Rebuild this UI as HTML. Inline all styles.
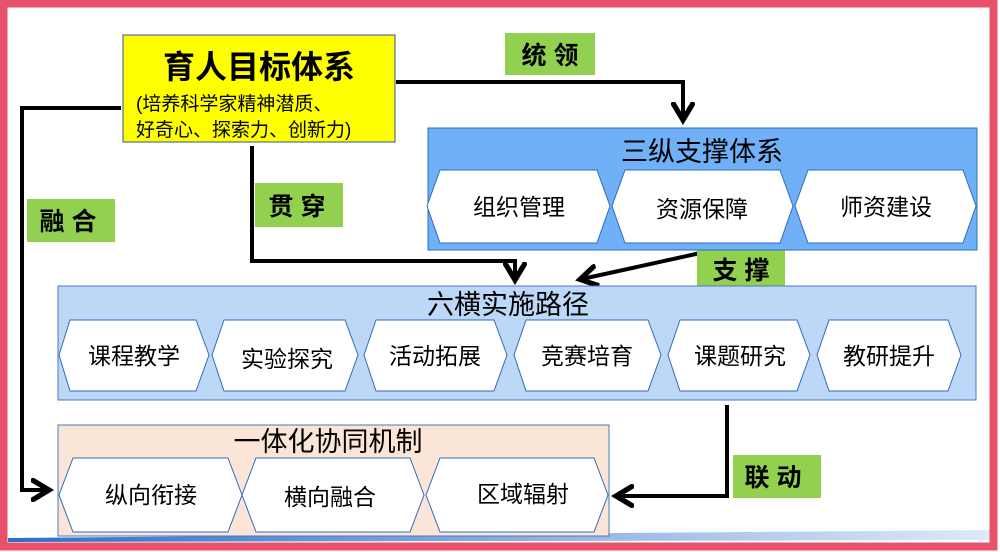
<!DOCTYPE html>
<html><head><meta charset="utf-8"><style>
html,body{margin:0;padding:0;background:#fff}
svg{display:block}
text{font-family:"Liberation Sans","Noto Sans CJK SC",sans-serif}
</style></head><body>
<svg width="1000" height="552" viewBox="0 0 1000 552" xmlns="http://www.w3.org/2000/svg">
<defs>
<marker id="ah" markerWidth="6" markerHeight="6" refX="4" refY="3" orient="auto" markerUnits="strokeWidth">
<path d="M0,0.3 L4.5,3 L0,5.7" fill="none" stroke="#000" stroke-width="1.3"/>
</marker>
<linearGradient id="bl" x1="0" x2="1"><stop offset="0" stop-color="#2e6fc4"/><stop offset="1" stop-color="#dfe9f7"/></linearGradient>
</defs>
<rect width="1000" height="552" fill="#fff"/>
<path d="M8,538 L990,530 L990,540 L8,542Z" fill="url(#bl)"/>
<rect x="3.5" y="3.5" width="990" height="543" fill="none" stroke="#e75169" stroke-width="8"/>

<rect x="123" y="35" width="272" height="107" fill="#ffff00" stroke="#2f5597" stroke-width="1"/>
<text x="259" y="78" font-size="32" font-weight="bold" text-anchor="middle">育人目标体系</text>
<text x="136" y="110" font-size="19">(培养科学家精神潜质、</text>
<text x="136" y="136" font-size="19">好奇心、探索力、创新力)</text>

<g fill="none" stroke="#000" stroke-width="4">
<path d="M396,82 L683,82 L683,118" marker-end="url(#ah)"/>
<path d="M121,108 L22,108 L22,490 L47,490" marker-end="url(#ah)"/>
<path d="M252,146 L252,261 L515,261 L515,278" marker-end="url(#ah)"/>
<path d="M705,252 L582,279" marker-end="url(#ah)"/>
<path d="M727,405 L727,496 L618,496" marker-end="url(#ah)"/>
</g>

<g fill="#92d050">
<rect x="505" y="33" width="90" height="42"/>
<rect x="27" y="199" width="88" height="43"/>
<rect x="255" y="183" width="88" height="44"/>
<rect x="697" y="250" width="88" height="38"/>
<rect x="733" y="455" width="88" height="43"/>
</g>
<g font-size="25" font-weight="bold">
<text x="550" y="64" text-anchor="middle">统 领</text>
<text x="68" y="230" text-anchor="middle">融 合</text>
<text x="297" y="215" text-anchor="middle">贯 穿</text>
<text x="741" y="279" text-anchor="middle">支 撑</text>
<text x="773" y="486" text-anchor="middle">联 动</text>
</g>

<rect x="428" y="128" width="549" height="122" fill="#6fb0f7" stroke="#2f6bbd" stroke-width="1"/>
<text x="702" y="161" font-size="27" text-anchor="middle">三纵支撑体系</text>
<g fill="#fff" stroke="#2f6bbd" stroke-width="1">
<path d="M440,170 L597,170 L610,206 L597,243 L440,243 L427,206Z"/>
<path d="M625,170 L780,170 L793,206 L780,243 L625,243 L612,206Z"/>
<path d="M808,170 L963,170 L976,206 L963,243 L808,243 L795,206Z"/>
</g>
<g font-size="23" text-anchor="middle">
<text x="519" y="215">组织管理</text>
<text x="702" y="217">资源保障</text>
<text x="886" y="215">师资建设</text>
</g>

<rect x="58" y="286" width="918" height="114" fill="#bdd7f7" stroke="#4a78c0" stroke-width="1"/>
<text x="508" y="314" font-size="27" text-anchor="middle">六横实施路径</text>
<g fill="#fff" stroke="#2f6bbd" stroke-width="1">
<path d="M70,320 L196,320 L209,355 L196,391 L70,391 L59,355Z"/>
<path d="M224,320 L345,320 L358,355 L345,391 L224,391 L212,355Z"/>
<path d="M376,320 L494,320 L507,355 L494,391 L376,391 L364,355Z"/>
<path d="M526,320 L648,320 L661,355 L648,391 L526,391 L514,355Z"/>
<path d="M680,320 L797,320 L810,355 L797,391 L680,391 L668,355Z"/>
<path d="M829,320 L948,320 L961,355 L948,391 L829,391 L817,355Z"/>
</g>
<g font-size="23" text-anchor="middle">
<text x="134" y="364">课程教学</text>
<text x="287" y="367">实验探究</text>
<text x="435" y="364">活动拓展</text>
<text x="587" y="364">竞赛培育</text>
<text x="740" y="364">课题研究</text>
<text x="889" y="364">教研提升</text>
</g>

<rect x="58" y="425" width="551" height="111" fill="#fbe5d6" stroke="#4a78c0" stroke-width="1"/>
<text x="328" y="451" font-size="27" text-anchor="middle">一体化协同机制</text>
<g fill="#fff" stroke="#2f6bbd" stroke-width="1">
<path d="M73,458 L228,458 L242,495 L228,532 L73,532 L59,495Z"/>
<path d="M256,458 L410,458 L424,495 L410,532 L256,532 L242,495Z"/>
<path d="M440,458 L594,458 L608,495 L594,532 L440,532 L426,495Z"/>
</g>
<g font-size="23" text-anchor="middle">
<text x="151" y="503">纵向衔接</text>
<text x="330" y="505">横向融合</text>
<text x="523" y="502">区域辐射</text>
</g>
</svg>
</body></html>
